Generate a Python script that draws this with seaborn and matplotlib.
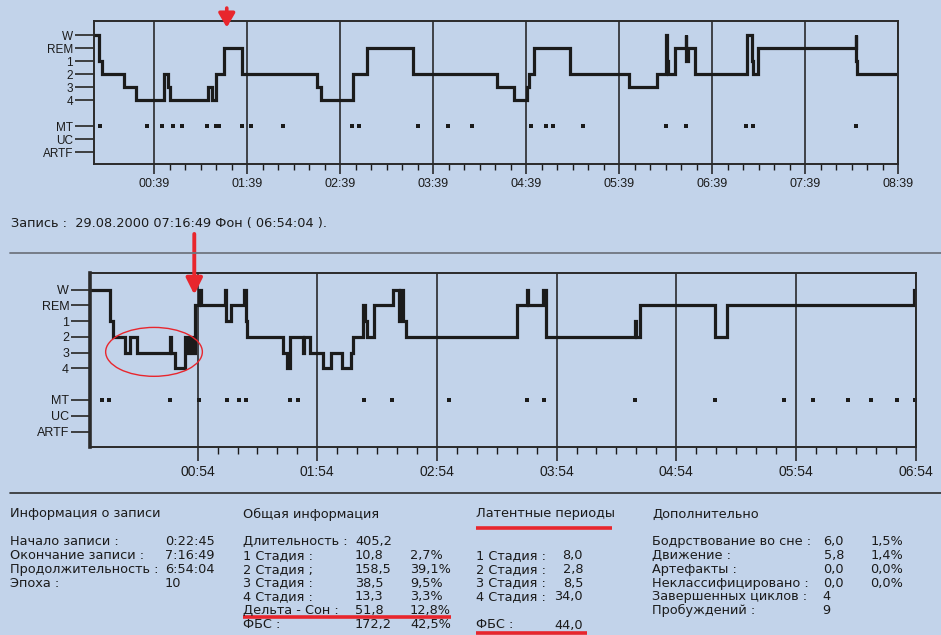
import numpy as np
import pandas as pd
import matplotlib
matplotlib.use("Agg")
import matplotlib.pyplot as plt
from matplotlib.lines import Line2D
from matplotlib.patches import Ellipse
import seaborn as sns

# ---------------------------------------------------------------------------
# Hypnogram data: segment start (minutes from 00:00) and sleep stage
# ---------------------------------------------------------------------------
stage_names = ["W", "REM", "1", "2", "3", "4"]
stage_level = {"W": 0, "REM": 1, "1": 2, "2": 3, "3": 4, "4": 5}
y_tick_pos = [0, 1, 2, 3, 4, 5, 7, 8, 9]
y_tick_labels = ["W", "REM", "1", "2", "3", "4", "MT", "UC", "ARTF"]

# Night 1 (upper hypnogram)
top_start = [0.0, 3.2, 5.4, 19.4, 26.9, 45.2, 47.8, 49.1, 73.6, 76.4, 78.6,
             83.9, 95.7, 143.7, 146.3, 167.4, 176.0, 205.7, 260.0, 271.0,
             279.7, 280.9, 284.0, 307.3, 345.6, 363.7, 369.3, 369.7, 370.4,
             375.1, 382.0, 382.4, 383.2, 388.0, 421.8, 425.0, 425.6, 428.9,
             491.7, 492.0, 492.4]
top_stage = ["W", "1", "2", "3", "4", "2", "3", "4", "3", "4", "2",
             "REM", "2", "3", "4", "2", "REM", "2", "3", "4",
             "3", "2", "REM", "2", "3", "2", "W", "1", "2",
             "REM", "W", "1", "REM", "2", "W", "1", "2", "REM",
             "W", "1", "2"]
top_end = 519.0
top_mt = [3.9, 34.0, 43.7, 50.8, 56.6, 72.8, 78.8, 80.9, 95.8, 101.1, 122.2,
          166.8, 171.1, 209.0, 228.8, 243.8, 282.1, 291.8, 296.6, 315.5,
          369.3, 382.2, 420.9, 425.2, 491.7]
top_hours = ["00:39", "01:39", "02:39", "03:39", "04:39", "05:39", "06:39",
             "07:39", "08:39"]

# Night 2 (lower hypnogram)
bot_start = [0.0, 9.9, 11.5, 17.4, 19.9, 23.7, 40.0, 40.5, 42.8, 47.5, 49.2,
             49.6, 51.2, 52.5, 54.7, 55.6, 67.6, 68.0, 70.9, 77.2, 78.0,
             78.9, 97.0, 98.7, 100.3, 106.7, 107.2, 110.4, 117.1, 120.8,
             126.3, 130.8, 132.1, 137.1, 137.9, 138.8, 142.2, 151.9, 155.0,
             155.6, 156.9, 158.4, 214.1, 219.4, 219.8, 227.4, 228.8, 273.4,
             273.8, 276.0, 313.3, 319.5, 413.1]
bot_stage = ["W", "1", "2", "3", "2", "3", "2", "3", "4", "2", "3",
             "2", "3", "REM", "W", "REM", "W", "1", "REM", "W", "1",
             "2", "3", "4", "2", "3", "2", "3", "4", "3",
             "4", "3", "2", "REM", "1", "2", "REM", "W", "1",
             "W", "1", "2", "REM", "W", "REM", "W", "2", "1",
             "2", "REM", "2", "REM", "W"]
bot_end = 414.0
bot_mt = [5.9, 9.7, 40.1, 54.9, 68.6, 74.9, 78.1, 100.4, 104.2, 137.6, 151.4,
          179.8, 219.1, 227.8, 273.5, 313.3, 347.9, 362.4, 380.2, 391.9,
          404.8, 413.6]
bot_hours = ["00:54", "01:54", "02:54", "03:54", "04:54", "05:54", "06:54"]

BG = "#C2D3EA"
INK = "#1b1b1b"
RED = "#E8262D"
W_PX, H_PX = 941, 635

sns.set_theme(style="ticks")
plt.rcParams["font.family"] = ["DejaVu Sans"]

fig = plt.figure(figsize=(W_PX / 100, H_PX / 100), dpi=100, facecolor=BG)


def px_axes(left, top, right, bottom):
    return fig.add_axes([left / W_PX, 1 - bottom / H_PX,
                         (right - left) / W_PX, (bottom - top) / H_PX])


def draw_hypnogram(ax, starts, stages, end, mt, first_major, hour_labels,
                   ylim, xlab_size):
    levels = [stage_level[s] for s in stages]
    df = pd.DataFrame({"t": list(starts) + [end],
                       "level": levels + [levels[-1]]})
    sns.lineplot(data=df, x="t", y="level", drawstyle="steps-post",
                 estimator=None, sort=False, color=INK, linewidth=2.3,
                 solid_joinstyle="miter", ax=ax)
    mdf = pd.DataFrame({"t": mt, "level": [7] * len(mt)})
    sns.scatterplot(data=mdf, x="t", y="level", marker="s", s=6,
                    color=INK, linewidth=0, ax=ax)

    majors = [first_major + 60 * k for k in range(len(hour_labels))]
    minors = [m for m in np.arange(first_major, end + 0.5, 10)
              if (m - first_major) % 60 != 0]
    ax.set_xlim(0, end)
    ax.set_ylim(*ylim)
    ax.set_xticks(majors)
    ax.set_xticklabels(hour_labels)
    ax.set_xticks(minors, minor=True)
    ax.set_yticks(y_tick_pos)
    ax.set_yticklabels(y_tick_labels)
    ax.set_xlabel("")
    ax.set_ylabel("")
    ax.set_facecolor(BG)
    ax.grid(axis="x", which="major", color=INK, linewidth=1.1)
    ax.tick_params(axis="x", which="major", length=7, width=1.1,
                   color=INK, pad=3, labelsize=xlab_size, labelcolor=INK)
    ax.tick_params(axis="x", which="minor", length=4, width=1.0, color=INK)
    ax.tick_params(axis="y", length=14, width=1.3, color="#333333", pad=1,
                   labelsize=8.5, labelcolor=INK)
    for lab in ax.get_xticklabels() + ax.get_yticklabels():
        lab.set_family(["Liberation Sans", "DejaVu Sans"])
    for sp in ax.spines.values():
        sp.set_color("#2a2a2a")
        sp.set_linewidth(1.4)


# Upper hypnogram
ax1 = px_axes(94, 21, 898, 164)
draw_hypnogram(ax1, top_start, top_stage, top_end, top_mt, 39, top_hours,
               (9.92, -1.08), 9)
ax1.annotate("", xy=(85.7, 0.935), xytext=(85.7, 1.11),
             xycoords=("data", "axes fraction"),
             arrowprops=dict(arrowstyle="-|>,head_length=0.6,head_width=0.35",
                             color=RED, lw=2.6, mutation_scale=14),
             annotation_clip=False)

# Record caption and divider
fig.text(11 / W_PX, 1 - 224 / H_PX,
         "Запись :  29.08.2000 07:16:49 Фон ( 06:54:04 ).",
         fontsize=9.3, color=INK, va="center", ha="left")
fig.add_artist(Line2D([10 / W_PX, 1.0], [1 - 252.5 / H_PX] * 2,
                      color="#6f7580", linewidth=1.3))

# Lower hypnogram
ax2 = px_axes(90, 273, 915.5, 447.3)
draw_hypnogram(ax2, bot_start, bot_stage, bot_end, bot_mt, 54, bot_hours,
               (10.0, -1.05), 10)
ax2.spines["left"].set_linewidth(2.6)
ax2.tick_params(axis="x", which="major", length=10)
ax2.tick_params(axis="x", which="minor", length=5)
ax2.tick_params(axis="y", labelsize=9)
ax2.add_patch(Ellipse((32.1, 3.95), 48.5, 3.1, fill=False, edgecolor=RED,
                      linewidth=1.0, zorder=5))
ax2.annotate("", xy=(52.3, 0.86), xytext=(52.3, 1.24),
             xycoords=("data", "axes fraction"),
             arrowprops=dict(arrowstyle="-|>,head_length=0.7,head_width=0.35",
                             color=RED, lw=2.8, mutation_scale=14),
             annotation_clip=False)

# Divider above the summary tables
fig.add_artist(Line2D([10 / W_PX, 1.0], [1 - 492.5 / H_PX] * 2,
                      color="#2d2d2d", linewidth=1.2))

# ---------------------------------------------------------------------------
# Summary tables
# ---------------------------------------------------------------------------
info_labels = ["Начало записи :", "Окончание записи :",
               "Продолжительность :", "Эпоха :"]
info_values = ["0:22:45", "7:16:49", "6:54:04", "10"]

general_labels = ["Длительность :", "1 Стадия :", "2 Стадия ;", "3 Стадия :",
                  "4 Стадия :", "Дельта - Сон :", "ФБС :"]
general_values = ["405,2", "10,8", "158,5", "38,5", "13,3", "51,8", "172,2"]
general_pct = ["", "2,7%", "39,1%", "9,5%", "3,3%", "12,8%", "42,5%"]

latency_labels = ["1 Стадия :", "2 Стадия :", "3 Стадия :", "4 Стадия :"]
latency_values = ["8,0", "2,8", "8,5", "34,0"]
latency_rem_label = "ФБС :"
latency_rem_value = "44,0"

extra_labels = ["Бодрствование во сне :", "Движение :", "Артефакты :",
                "Неклассифицировано :", "Завершенных циклов :",
                "Пробуждений :"]
extra_values = ["6,0", "5,8", "0,0", "0,0"]
extra_pct = ["1,5%", "1,4%", "0,0%", "0,0%"]
extra_counts = ["4", "9"]

FS = 9.3


def put(x, y, s, ha="left"):
    fig.text(x / W_PX, 1 - y / H_PX, s, fontsize=FS, color=INK,
             ha=ha, va="center")


def underline(x0, x1, y):
    fig.add_artist(Line2D([x0 / W_PX, x1 / W_PX], [1 - y / H_PX] * 2,
                          color=RED, linewidth=2.6, solid_capstyle="butt"))


ROW0, DY = 541.7, 13.8

put(10, 514, "Информация о записи")
for i, (lab, val) in enumerate(zip(info_labels, info_values)):
    put(10, ROW0 + i * DY, lab)
    put(165, ROW0 + i * DY, val)

put(243, 514, "Общая информация")
for i, (lab, val, pct) in enumerate(zip(general_labels, general_values,
                                        general_pct)):
    put(243, ROW0 + i * DY, lab)
    put(355, ROW0 + i * DY, val)
    if pct:
        put(410, ROW0 + i * DY, pct)
underline(243, 451, 616.5)

put(476, 514, "Латентные периоды")
underline(476, 612, 528.3)
for i, (lab, val) in enumerate(zip(latency_labels, latency_values)):
    put(476, ROW0 + (i + 1) * DY, lab)
    put(583, ROW0 + (i + 1) * DY, val, ha="right")
put(476, 625, latency_rem_label)
put(583, 625, latency_rem_value, ha="right")
underline(476, 587, 632.7)

put(652, 514, "Дополнительно")
for i, lab in enumerate(extra_labels):
    put(652, ROW0 + i * DY, lab)
for i, (val, pct) in enumerate(zip(extra_values, extra_pct)):
    put(844, ROW0 + i * DY, val, ha="right")
    put(903, ROW0 + i * DY, pct, ha="right")
for i, cnt in enumerate(extra_counts):
    put(822, ROW0 + (i + 4) * DY, cnt)

fig.savefig("out.png", dpi=100, facecolor=BG)
